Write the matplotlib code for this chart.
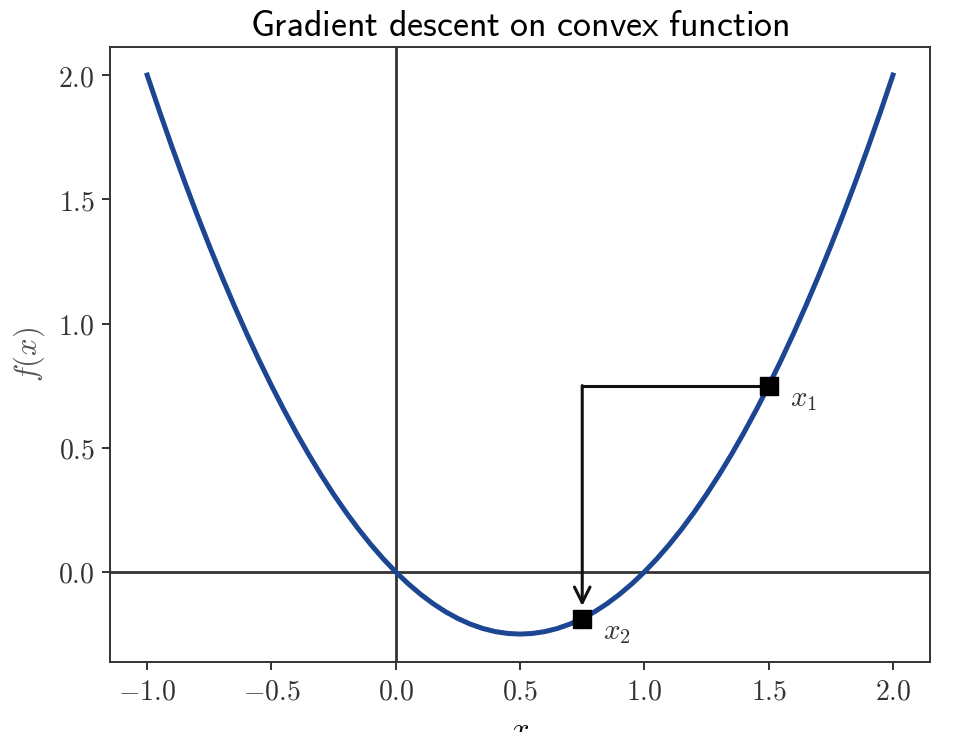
import matplotlib
matplotlib.use("Agg")
import matplotlib.pyplot as plt
from matplotlib.ticker import FuncFormatter

plt.rcParams["mathtext.fontset"] = "cm"

# f(x) = x^2 - x at steps of 0.05
xs = [-1.0, -0.95, -0.9, -0.85, -0.8, -0.75, -0.7, -0.65, -0.6, -0.55,
      -0.5, -0.45, -0.4, -0.35, -0.3, -0.25, -0.2, -0.15, -0.1, -0.05,
      0.0, 0.05, 0.1, 0.15, 0.2, 0.25, 0.3, 0.35, 0.4, 0.45,
      0.5, 0.55, 0.6, 0.65, 0.7, 0.75, 0.8, 0.85, 0.9, 0.95,
      1.0, 1.05, 1.1, 1.15, 1.2, 1.25, 1.3, 1.35, 1.4, 1.45,
      1.5, 1.55, 1.6, 1.65, 1.7, 1.75, 1.8, 1.85, 1.9, 1.95, 2.0]
fx = [2.0, 1.8525, 1.71, 1.5725, 1.44, 1.3125, 1.19, 1.0725, 0.96, 0.8525,
      0.75, 0.6525, 0.56, 0.4725, 0.39, 0.3125, 0.24, 0.1725, 0.11, 0.0525,
      0.0, -0.0475, -0.09, -0.1275, -0.16, -0.1875, -0.21, -0.2275, -0.24, -0.2475,
      -0.25, -0.2475, -0.24, -0.2275, -0.21, -0.1875, -0.16, -0.1275, -0.09, -0.0475,
      0.0, 0.0525, 0.11, 0.1725, 0.24, 0.3125, 0.39, 0.4725, 0.56, 0.6525,
      0.75, 0.8525, 0.96, 1.0725, 1.19, 1.3125, 1.44, 1.5725, 1.71, 1.8525, 2.0]

# gradient descent iterates
steps_x = [1.5, 0.75]
steps_y = [0.75, -0.1875]
step_labels = ["$x_1$", "$x_2$"]

fig = plt.figure(figsize=(9.64, 7.32), dpi=100)
ax = fig.add_axes([0.114, 0.0956, 0.851, 0.840])

ax.plot(xs, fx, color="#1c4592", lw=3.6, zorder=3, solid_joinstyle="round")
ax.axhline(0, color="#333333", lw=2, zorder=2)
ax.axvline(0, color="#333333", lw=2, zorder=2)

# horizontal part of the step, then the arrow down to the next iterate
ax.plot([steps_x[0], steps_x[1]], [steps_y[0], steps_y[0]], color="#111111", lw=2.2, zorder=4)
ax.annotate("", xy=(steps_x[1], steps_y[1]), xytext=(steps_x[1], steps_y[0]),
            arrowprops=dict(arrowstyle="->", color="#111111", lw=2.2,
                            shrinkA=0, shrinkB=9, mutation_scale=28), zorder=4)

ax.plot(steps_x, steps_y, "s", color="black", ms=13, zorder=5)
for sx, sy, lab in zip(steps_x, steps_y, step_labels):
    ax.text(sx + 0.085, sy - 0.055, lab, fontsize=21, va="center", ha="left", color="#333333")

fmt = FuncFormatter(lambda v, p: f"${v:.1f}$")
ax.xaxis.set_major_formatter(fmt)
ax.yaxis.set_major_formatter(fmt)
ax.set_xticks([-1.0, -0.5, 0.0, 0.5, 1.0, 1.5, 2.0])
ax.set_yticks([0.0, 0.5, 1.0, 1.5, 2.0])
ax.tick_params(labelsize=20, length=6, width=1.4, pad=5, colors="#333333")
for s in ax.spines.values():
    s.set_linewidth(1.4)
    s.set_color("#333333")

ax.set_title(r"$\mathsf{Gradient\ descent\ on\ convex\ function}$", fontsize=25.8, pad=8)
ax.set_xlabel("$x$", fontsize=22, labelpad=8)
ax.set_ylabel("$f(x)$", fontsize=22, color="#555555", labelpad=8)

fig.savefig("out.png", dpi=100)
